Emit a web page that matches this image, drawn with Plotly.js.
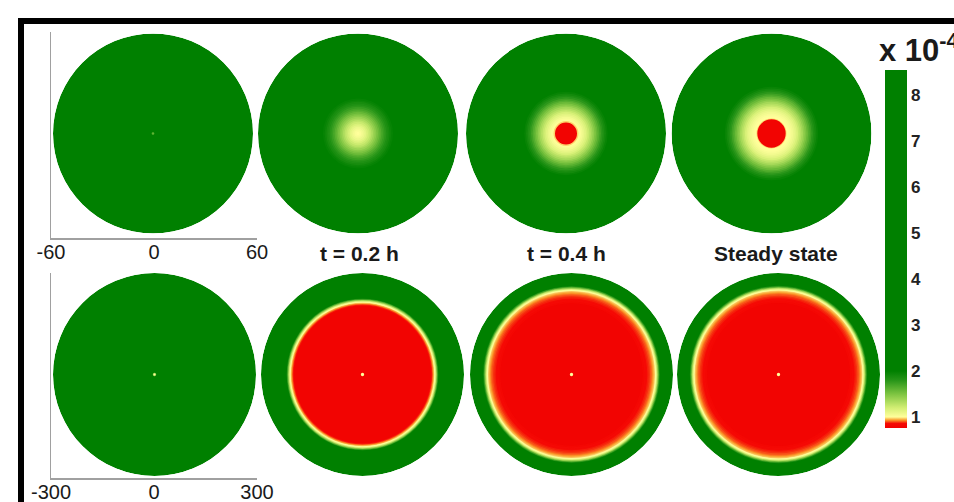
<!DOCTYPE html>
<html><head><meta charset="utf-8">
<script src="https://cdn.plot.ly/plotly-3.0.1.min.js"></script>
<style>html,body{margin:0;padding:0;background:#fff;} #chart{width:954px;height:502px;}</style>
</head><body><div id="chart"></div>
<script>
// Radial concentration profiles (units x 10^-4). Each entry: outer radius of a disc (µm)
// and the concentration inside it; discs are drawn largest first.
// Top row: zoomed view, radius 60 µm
const rTop0 = [60, 0.8];
const cTop0 = [5.0, 1.6];
const rTop1 = [60, 22, 21, 20, 19, 18, 17, 16, 15, 14, 13, 12, 11, 10, 9, 8, 7, 6, 5, 4, 3, 2, 1];
const cTop1 = [5.0, 2.02, 1.97, 1.93, 1.88, 1.84, 1.79, 1.74, 1.69, 1.63, 1.57, 1.51, 1.45, 1.39, 1.33, 1.27, 1.22, 1.17, 1.12, 1.08, 1.05, 1.02, 1.0];
const rTop2 = [60, 26, 25, 24, 23, 22, 21, 20, 19, 18, 17, 16, 15, 14, 13, 12, 11, 10, 9, 8, 7.5, 6.6];
const cTop2 = [5.0, 2.02, 1.96, 1.9, 1.84, 1.78, 1.71, 1.64, 1.57, 1.5, 1.43, 1.36, 1.3, 1.24, 1.18, 1.13, 1.09, 1.05, 1.02, 1.0, 0.97, 0.8];
const rTop3 = [60, 29, 28, 27, 26, 25, 24, 23, 22, 21, 20, 19, 18, 17, 16, 15, 14, 13, 12, 11, 10, 9, 8.5];
const cTop3 = [5.0, 2.02, 1.96, 1.9, 1.84, 1.78, 1.71, 1.64, 1.57, 1.5, 1.43, 1.36, 1.3, 1.24, 1.18, 1.13, 1.09, 1.06, 1.03, 1.01, 1.0, 0.97, 0.8];
// Bottom row: full view, radius 300 µm
const rBot0 = [300, 5, 3];
const cBot0 = [5.0, 1.4, 1.0];
const rBot1 = [300, 226, 224, 222, 220, 218, 216, 214, 212, 210, 208, 206, 204, 202, 5];
const cBot1 = [5.0, 2.0, 1.8, 1.6, 1.4, 1.22, 1.08, 1.0, 0.96, 0.93, 0.9, 0.87, 0.84, 0.8, 1.0];
const rBot2 = [300, 263, 261, 259, 257, 255, 253, 251, 249, 247, 245, 242, 239, 236, 232, 228, 224, 220, 215, 210, 5];
const cBot2 = [5.0, 2.02, 1.85, 1.68, 1.5, 1.33, 1.18, 1.06, 1.0, 0.97, 0.95, 0.93, 0.91, 0.895, 0.88, 0.87, 0.86, 0.85, 0.83, 0.8, 1.0];
const rBot3 = [300, 264, 262, 260, 258, 256, 254, 252, 250, 248, 246, 243, 240, 237, 233, 229, 225, 221, 216, 211, 5];
const cBot3 = [5.0, 2.02, 1.85, 1.68, 1.5, 1.33, 1.18, 1.06, 1.0, 0.97, 0.95, 0.93, 0.91, 0.895, 0.88, 0.87, 0.86, 0.85, 0.83, 0.8, 1.0];

const panelTitles = ['t = 0.2 h', 't = 0.4 h', 'Steady state'];
const topTicks = [-60, 0, 60];
const topTickText = ['-60', '0', '60'];
const botTicks = [-300, 0, 300];
const botTickText = ['-300', '0', '300'];
const cbTicks = [1, 2, 3, 4, 5, 6, 7, 8];
const cbRange = [0.76, 8.54];

const W = 954, H = 502;
const topCx = [153, 358, 566, 771.5], topCy = 133.5, topRad = 100;
const botCx = [154.5, 362.5, 571.5, 778.5], botCy = 374.5, botRad = 101.5;
function dom(cx, cy, rad) {
  return {x: [(cx - rad) / W, (cx + rad) / W], y: [1 - (cy + rad) / H, 1 - (cy - rad) / H]};
}

const profiles = [
  [rTop0, cTop0, 60], [rTop1, cTop1, 60], [rTop2, cTop2, 60], [rTop3, cTop3, 60],
  [rBot0, cBot0, 300], [rBot1, cBot1, 300], [rBot2, cBot2, 300], [rBot3, cBot3, 300]
];

const traces = [];
const layout = {
  width: W, height: H,
  margin: {l: 0, r: 0, t: 0, b: 0},
  paper_bgcolor: '#fff', plot_bgcolor: 'rgba(0,0,0,0)',
  showlegend: false,
  font: {family: 'Liberation Sans, Arial, sans-serif', color: '#1a1a1a'},
  annotations: [], shapes: []
};

profiles.forEach((p, i) => {
  const name = i === 0 ? 'polar' : 'polar' + (i + 1);
  const row = i < 4 ? 0 : 1, col = i % 4;
  const d = row === 0 ? dom(topCx[col], topCy, topRad) : dom(botCx[col], botCy, botRad);
  layout[name] = {
    domain: d, bgcolor: 'rgba(0,0,0,0)', barmode: 'overlay',
    angularaxis: {visible: false},
    radialaxis: {visible: false, range: [0, p[2]]}
  };
  traces.push({
    type: 'barpolar', subplot: name,
    r: p[0], theta: p[0].map(() => 0), width: p[0].map(() => 360),
    marker: {color: p[1], coloraxis: 'coloraxis', line: {width: 0}},
    hoverinfo: 'skip'
  });
});

const span = cbRange[1] - cbRange[0];
const stop = v => (v - cbRange[0]) / span;
layout.coloraxis = {
  cmin: cbRange[0], cmax: cbRange[1],
  colorscale: [
    [stop(0.76), 'rgb(240,0,0)'],
    [stop(0.86), 'rgb(245,10,5)'],
    [stop(0.93), 'rgb(250,150,40)'],
    [stop(1.0), 'rgb(255,255,155)'],
    [stop(1.2), 'rgb(210,238,115)'],
    [stop(1.5), 'rgb(125,196,65)'],
    [stop(1.8), 'rgb(38,148,24)'],
    [stop(2.0), 'rgb(0,128,0)'],
    [1, 'rgb(0,128,0)']
  ],
  colorbar: {
    x: 885 / W, xanchor: 'left', xpad: 0,
    y: 1 - 249 / H, yanchor: 'middle', ypad: 0,
    len: 358, lenmode: 'pixels', thickness: 22, thicknessmode: 'pixels',
    outlinewidth: 0, ticks: '', tickvals: cbTicks,
    tickfont: {size: 17, weight: 'bold', color: '#222'}
  }
};

// cartesian reference axes (left column)
traces.push({type: 'scatter', x: [], y: [], xaxis: 'x', yaxis: 'y', hoverinfo: 'skip'});
traces.push({type: 'scatter', x: [], y: [], xaxis: 'x2', yaxis: 'y2', hoverinfo: 'skip'});
const axBase = {showgrid: false, zeroline: false, showline: true, linecolor: '#a0a0a0', linewidth: 1.5, ticks: '', fixedrange: true};
layout.xaxis = Object.assign({}, axBase, {domain: [51 / W, 257 / W], anchor: 'y', range: [topTicks[0], topTicks[2]],
  tickvals: topTicks, ticktext: topTickText, ticklabelstandoff: -5, tickfont: {size: 20, color: '#1a1a1a'}});
layout.yaxis = Object.assign({}, axBase, {domain: [1 - 238 / H, 1 - 32 / H], anchor: 'x', range: [0, 1], showticklabels: false});
layout.xaxis2 = Object.assign({}, axBase, {domain: [51 / W, 257 / W], anchor: 'y2', range: [botTicks[0], botTicks[2]],
  tickvals: botTicks, ticktext: botTickText, ticklabelstandoff: -5, tickfont: {size: 20, color: '#1a1a1a'}});
layout.yaxis2 = Object.assign({}, axBase, {domain: [1 - 478 / H, 1 - 273 / H], anchor: 'x2', range: [0, 1], showticklabels: false});

// panel titles
const titleX = [359, 566, 775.5];
panelTitles.forEach((t, k) => {
  layout.annotations.push({text: t, xref: 'paper', yref: 'paper', x: titleX[k] / W, y: 1 - 253 / H,
    xanchor: 'center', yanchor: 'middle', showarrow: false, font: {size: 21, weight: 'bold', color: '#1a1a1a'}});
});
layout.annotations.push({text: 'x 10<sup>-4</sup>', xref: 'paper', yref: 'paper', x: 877 / W, y: 1 - 48 / H,
  xanchor: 'left', yanchor: 'middle', showarrow: false, font: {size: 31, weight: 'bold', color: '#1a1a1a'}});

// black frame (top and left)
layout.shapes.push({type: 'path', xref: 'paper', yref: 'paper',
  path: 'M ' + (21 / W) + ' -0.01 L ' + (21 / W) + ' ' + (1 - 21 / H) + ' L 1.01 ' + (1 - 21 / H),
  line: {color: '#000', width: 6}});

Plotly.newPlot('chart', traces, layout, {displayModeBar: false, staticPlot: true});
</script></body></html>
